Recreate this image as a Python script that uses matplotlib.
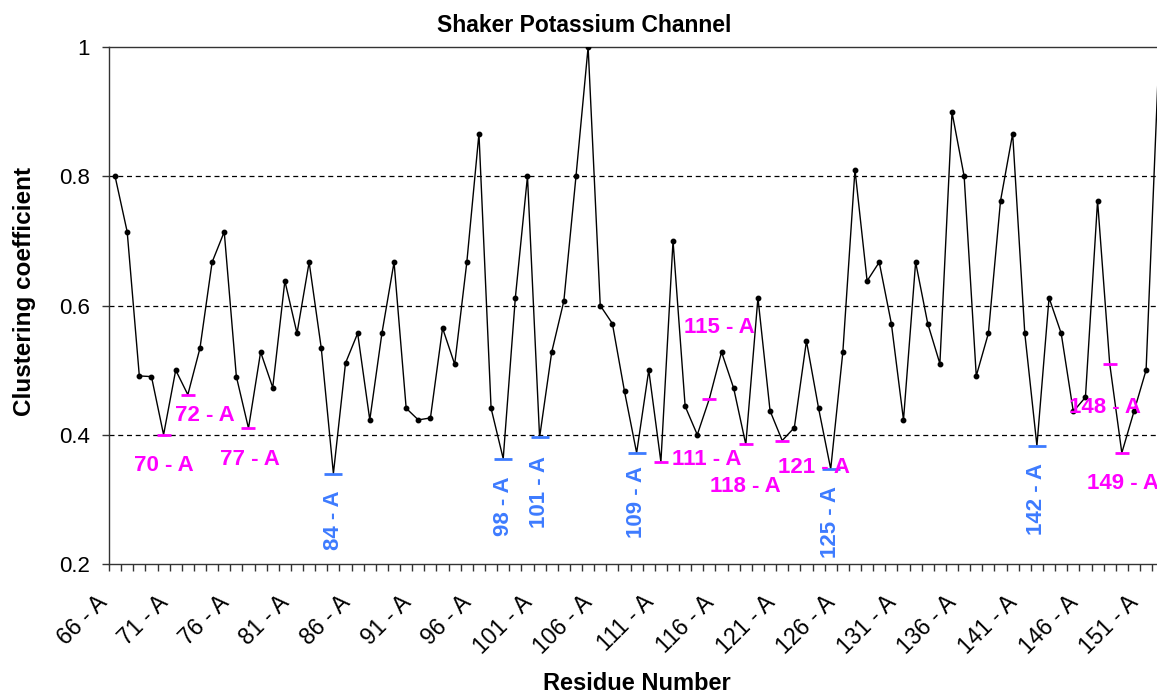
import matplotlib
matplotlib.use("Agg")
import matplotlib.pyplot as plt
from matplotlib.transforms import offset_copy

plt.rcParams['font.family'] = ['Liberation Sans', 'DejaVu Sans']

# Residues 66 - 152 of chain A and their clustering coefficients
residues = list(range(66, 153))
clustering = [
    0.800, 0.714, 0.491, 0.490, 0.400, 0.500, 0.462, 0.534, 0.667, 0.714,  # 66-75
    0.490, 0.410, 0.528, 0.473, 0.638, 0.557, 0.667, 0.534, 0.340, 0.511,  # 76-85
    0.557, 0.423, 0.557, 0.667, 0.441, 0.423, 0.426, 0.565, 0.509, 0.667,  # 86-95
    0.866, 0.441, 0.363, 0.612, 0.800, 0.396, 0.528, 0.607, 0.800, 1.000,  # 96-105
    0.600, 0.572, 0.467, 0.372, 0.500, 0.358, 0.700, 0.444, 0.400, 0.456,  # 106-115
    0.528, 0.472, 0.385, 0.612, 0.437, 0.391, 0.411, 0.545, 0.441, 0.347,  # 116-125
    0.528, 0.810, 0.638, 0.667, 0.572, 0.423, 0.667, 0.572, 0.510, 0.899,  # 126-135
    0.800, 0.491, 0.557, 0.762, 0.866, 0.557, 0.383, 0.612, 0.557, 0.436,  # 136-145
    0.458, 0.762, 0.510, 0.372, 0.436, 0.500, 0.960,                      # 146-152
]

# Highlighted residues
magenta_residues = [70, 72, 77, 111, 115, 118, 121, 148, 149]
blue_residues = [84, 98, 101, 109, 125, 142]

# Labelled category ticks
tick_residues = list(range(66, 152, 5))
tick_labels = [f"{r} - A" for r in tick_residues]

# Label offsets from the highlighted point, in pixels
label_offsets = {
    70: (0, -31), 72: (17, -21), 77: (1, -31), 111: (46, 2), 115: (10, 71),
    118: (0, -42), 121: (32, -27), 148: (-5, -44), 149: (1, -31),
    84: (0, -47), 98: (0, -48), 101: (0, -55), 109: (0, -49),
    125: (0, -53), 142: (0, -53),
}

MAGENTA = '#FF00FF'
BLUE = '#3D7BFF'
X_MAX = 151.9

W, H, DPI = 1157, 693, 100
fig = plt.figure(figsize=(W / DPI, H / DPI), dpi=DPI)
ax = fig.add_axes([109 / W, 1 - 564 / H, 1048 / W, 517 / H])

value_of = dict(zip(residues, clustering))
marked = set(magenta_residues) | set(blue_residues)

ax.plot(residues, clustering, color='black', lw=1.0, zorder=3)
# point markers only for residues inside the visible range
plain_x = [r for r in residues if r not in marked and r < X_MAX]
ax.plot(plain_x, [value_of[r] for r in plain_x], 'o', ms=3.2,
        color='black', ls='none', zorder=4)

ax.plot(magenta_residues, [value_of[r] for r in magenta_residues],
        marker='_', ms=10, mew=2, color=MAGENTA, ls='none', zorder=5)
ax.plot(blue_residues, [value_of[r] for r in blue_residues],
        marker='_', ms=12.5, mew=2, color=BLUE, ls='none', zorder=5)

for r in magenta_residues:
    ax.annotate(f"{r} - A", xy=(r, value_of[r]), xytext=label_offsets[r],
                textcoords='offset pixels', ha='center', va='center',
                fontsize=16, fontweight='bold', color=MAGENTA, zorder=6)
for r in blue_residues:
    ax.annotate(f"{r} - A", xy=(r, value_of[r]), xytext=label_offsets[r],
                textcoords='offset pixels', ha='center', va='center',
                rotation=90, fontsize=16, fontweight='bold', color=BLUE,
                zorder=6)

# Axes ranges and grid
ax.set_xlim(65.5, X_MAX)
ax.set_ylim(0.2, 1.0)
ax.set_yticks([0.2, 0.4, 0.6, 0.8, 1.0])
ax.set_yticklabels(['0.2', '0.4', '0.6', '0.8', '1'])
for gv in [0.4, 0.6, 0.8]:
    ax.axhline(gv, color='black', lw=0.9, ls=(0, (4, 3)), zorder=1)

# Category boundary ticks, labels placed separately
ax.set_xticks([r - 0.5 for r in residues])
ax.set_xticklabels([])
ax.tick_params(axis='x', direction='out', length=5, width=1, color='#333333')
ax.tick_params(axis='y', direction='out', length=5, width=1, color='#333333',
               labelsize=16, pad=9)

label_trans = offset_copy(ax.get_xaxis_transform(), fig=fig, x=-11, y=-35,
                          units='dots')
for r, lab in zip(tick_residues, tick_labels):
    ax.text(r, 0, lab, transform=label_trans, rotation=45, ha='right',
            va='center', rotation_mode='anchor', fontsize=16.5)

for side in ['left', 'bottom', 'top']:
    ax.spines[side].set_color('#333333')
    ax.spines[side].set_linewidth(1.0)
ax.spines['right'].set_visible(False)

fig.text(584 / W, 1 - 26 / H, 'Shaker Potassium Channel', ha='center',
         va='center', fontsize=16.5, fontweight='bold')
fig.text(637 / W, 1 - 683 / H, 'Residue Number', ha='center', va='center',
         fontsize=17, fontweight='bold')
fig.text(25 / W, 1 - 292 / H, 'Clustering coefficient', ha='center',
         va='center', rotation=90, fontsize=17.5, fontweight='bold')

fig.savefig('out.png', dpi=DPI)
